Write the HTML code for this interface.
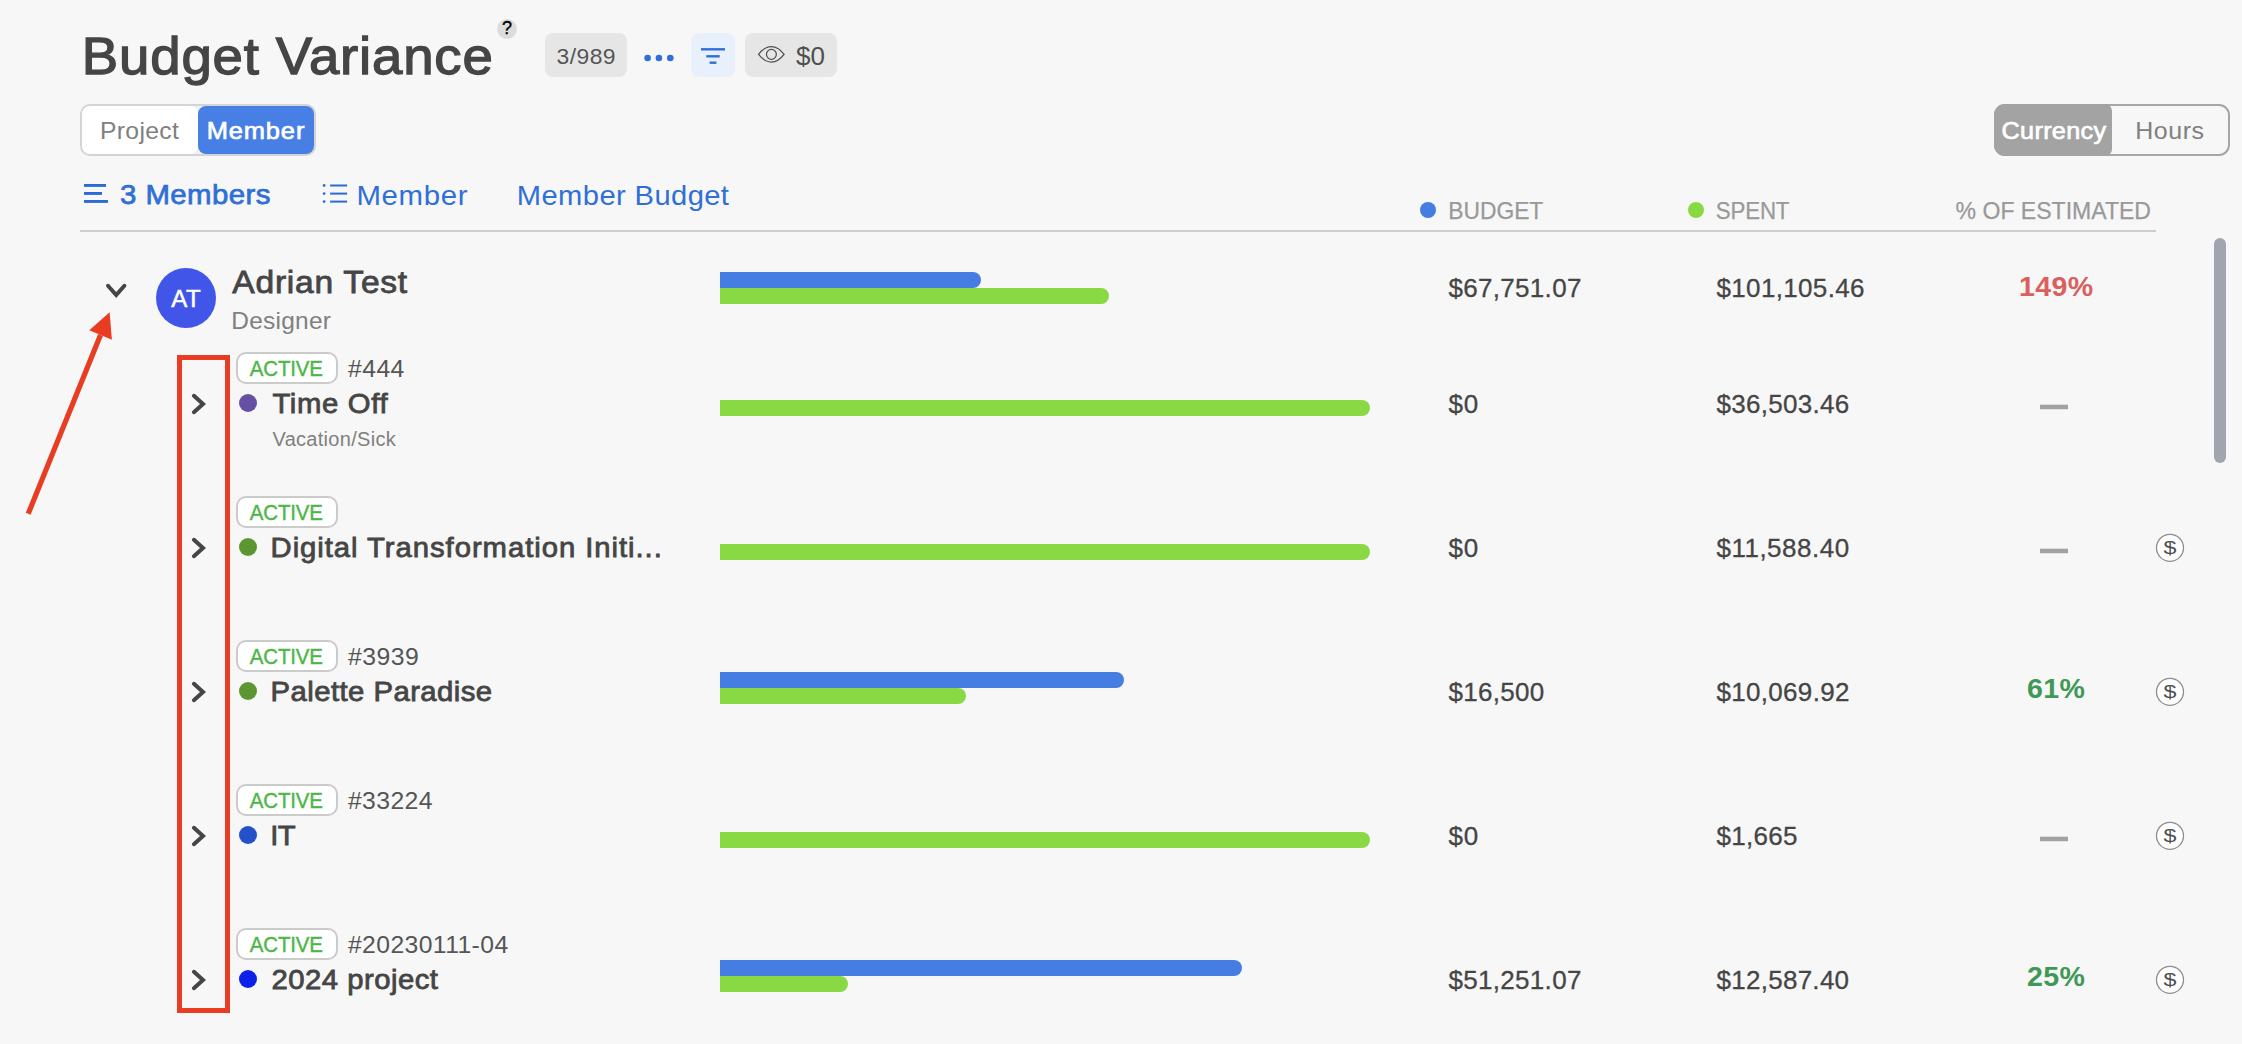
<!DOCTYPE html>
<html lang="en">
<head>
<meta charset="utf-8">
<title>Budget Variance</title>
<style>
html,body{margin:0;padding:0;}
body{width:2242px;height:1044px;background:#f7f7f7;overflow:hidden;position:relative;font-family:"Liberation Sans", sans-serif;}
.b{position:absolute;display:block;}
.t{position:absolute;white-space:pre;display:block;transform-origin:0 0;}
</style>
</head>
<body>
<div class="b" style="left:497px;top:19px;width:20px;height:20px;background:#dcdcdc;border-radius:50%;"></div>
<div class="b" style="left:545px;top:33px;width:82px;height:44px;background:#e6e6e6;border-radius:8px;"></div>
<svg class="b" style="left:640px;top:50px" width="40" height="16" viewBox="640 50 40 16"><circle cx="647.6" cy="58" r="3.3" fill="#2f6fdc"/><circle cx="658.9" cy="58" r="3.3" fill="#2f6fdc"/><circle cx="670.3" cy="58" r="3.3" fill="#2f6fdc"/></svg>
<div class="b" style="left:691px;top:33px;width:44px;height:44px;background:#e8f0fb;border-radius:8px;"></div>
<svg class="b" style="left:696px;top:44px" width="34" height="24" viewBox="696 44 34 24"><rect x="701" y="48.1" width="24" height="2.4" fill="#2f6fdc"/><rect x="706.3" y="55.1" width="13.4" height="2.4" fill="#2f6fdc"/><rect x="709.6" y="61.5" width="6.8" height="2.4" fill="#2f6fdc"/></svg>
<div class="b" style="left:745px;top:33px;width:92px;height:44px;background:#e6e6e6;border-radius:8px;"></div>
<svg class="b" style="left:754px;top:40px" width="36" height="30" viewBox="754 40 36 30"><path d="M758.6 54.3 C763 48.6 767.2 46.6 771.35 46.6 C775.5 46.6 779.7 48.6 784.1 54.3 C779.7 60 775.5 62 771.35 62 C767.2 62 763 60 758.6 54.3 Z" fill="none" stroke="#4f4f4f" stroke-width="1.25" stroke-linejoin="miter"/><circle cx="771.4" cy="54.35" r="4.95" fill="none" stroke="#4f4f4f" stroke-width="1.25"/></svg>
<div class="b" style="left:80px;top:104px;width:236px;height:52px;background:#f1f1f1;border:2px solid #d4d4d4;border-radius:10px;box-sizing:border-box;"></div>
<div class="b" style="left:82px;top:106px;width:116px;height:48px;background:#fff;border-radius:8px;"></div>
<div class="b" style="left:198px;top:106px;width:116px;height:48px;background:#487fe4;border-radius:8px;"></div>
<div class="b" style="left:1994px;top:104px;width:236px;height:52px;background:transparent;border:2px solid #a6a6a6;border-radius:11px;box-sizing:border-box;"></div>
<div class="b" style="left:1994px;top:104px;width:118px;height:52px;background:#a3a3a3;border-radius:11px 7px 7px 11px;"></div>
<svg class="b" style="left:80px;top:180px" width="32" height="28" viewBox="80 180 32 28"><rect x="84" y="184" width="22" height="2.9" fill="#2b6cd4"/><rect x="84" y="192" width="18" height="2.9" fill="#2b6cd4"/><rect x="84" y="200" width="24" height="2.9" fill="#2b6cd4"/></svg>
<svg class="b" style="left:320px;top:180px" width="32" height="28" viewBox="320 180 32 28"><circle cx="324.15" cy="185.5" r="1.4" fill="#2b6cd4"/><rect x="330.1" y="184.5" width="17" height="2" fill="#2b6cd4"/><circle cx="324.15" cy="193.6" r="1.4" fill="#2b6cd4"/><rect x="330.1" y="192.6" width="17" height="2" fill="#2b6cd4"/><circle cx="324.15" cy="201.6" r="1.4" fill="#2b6cd4"/><rect x="330.1" y="200.6" width="17" height="2" fill="#2b6cd4"/></svg>
<div class="b" style="left:80px;top:230px;width:2076px;height:2px;background:#cdcdcd;"></div>
<div class="b" style="left:1420px;top:202px;width:16px;height:16px;background:#467de3;border-radius:50%;"></div>
<div class="b" style="left:1688px;top:202px;width:16px;height:16px;background:#89d945;border-radius:50%;"></div>
<div class="b" style="left:2214px;top:238px;width:12px;height:225px;background:#a1a5b0;border-radius:6px;"></div>
<svg class="b" style="left:100px;top:278px" width="32" height="28" viewBox="100 278 32 28"><path d="M108 285.8 L116.2 295.1 L124.4 285.8" fill="none" stroke="#454545" stroke-width="4" stroke-linecap="round" stroke-linejoin="miter"/></svg>
<div class="b" style="left:156px;top:268px;width:60px;height:60px;background:#4156e8;border-radius:50%;"></div>
<div class="b" style="left:720px;top:272px;width:261px;height:16px;background:#467de3;border-radius:0 8px 8px 0;"></div>
<div class="b" style="left:720px;top:288px;width:389px;height:16px;background:#89d945;border-radius:0 8px 8px 0;"></div>
<svg class="b" style="left:186px;top:390px" width="28" height="28" viewBox="186 390 28 28"><path d="M193.9 395.8 L203 404 L193.9 412.2" fill="none" stroke="#454545" stroke-width="4" stroke-linecap="round" stroke-linejoin="miter"/></svg>
<div class="b" style="left:236px;top:352px;width:102px;height:32px;background:#fff;border:2px solid #cbcbcb;border-radius:10px;box-sizing:border-box;"></div>
<div class="b" style="left:239px;top:394px;width:18px;height:18px;background:#6650a4;border-radius:50%;"></div>
<div class="b" style="left:720px;top:400px;width:650px;height:16px;background:#89d945;border-radius:0 8px 8px 0;"></div>
<svg class="b" style="left:2036px;top:402px" width="36" height="12" viewBox="2036 402 36 12"><rect x="2040" y="404.7" width="28" height="4.5" fill="#a2a2a2"/></svg>
<svg class="b" style="left:186px;top:534px" width="28" height="28" viewBox="186 534 28 28"><path d="M193.9 539.8 L203 548 L193.9 556.2" fill="none" stroke="#454545" stroke-width="4" stroke-linecap="round" stroke-linejoin="miter"/></svg>
<div class="b" style="left:236px;top:496px;width:102px;height:32px;background:#fff;border:2px solid #cbcbcb;border-radius:10px;box-sizing:border-box;"></div>
<div class="b" style="left:239px;top:538px;width:18px;height:18px;background:#5a9632;border-radius:50%;"></div>
<div class="b" style="left:720px;top:544px;width:650px;height:16px;background:#89d945;border-radius:0 8px 8px 0;"></div>
<svg class="b" style="left:2036px;top:546px" width="36" height="12" viewBox="2036 546 36 12"><rect x="2040" y="548.7" width="28" height="4.5" fill="#a2a2a2"/></svg>
<svg class="b" style="left:2154px;top:532px" width="32" height="32" viewBox="2154 532 32 32"><circle cx="2170" cy="547.85" r="13.5" fill="#fff" stroke="#8c8c8c" stroke-width="1.25"/></svg>
<svg class="b" style="left:186px;top:678px" width="28" height="28" viewBox="186 678 28 28"><path d="M193.9 683.8 L203 692 L193.9 700.2" fill="none" stroke="#454545" stroke-width="4" stroke-linecap="round" stroke-linejoin="miter"/></svg>
<div class="b" style="left:236px;top:640px;width:102px;height:32px;background:#fff;border:2px solid #cbcbcb;border-radius:10px;box-sizing:border-box;"></div>
<div class="b" style="left:239px;top:682px;width:18px;height:18px;background:#5a9632;border-radius:50%;"></div>
<div class="b" style="left:720px;top:672px;width:404px;height:16px;background:#467de3;border-radius:0 8px 8px 0;"></div>
<div class="b" style="left:720px;top:688px;width:246px;height:16px;background:#89d945;border-radius:0 8px 8px 0;"></div>
<svg class="b" style="left:2154px;top:676px" width="32" height="32" viewBox="2154 676 32 32"><circle cx="2170" cy="691.85" r="13.5" fill="#fff" stroke="#8c8c8c" stroke-width="1.25"/></svg>
<svg class="b" style="left:186px;top:822px" width="28" height="28" viewBox="186 822 28 28"><path d="M193.9 827.8 L203 836 L193.9 844.2" fill="none" stroke="#454545" stroke-width="4" stroke-linecap="round" stroke-linejoin="miter"/></svg>
<div class="b" style="left:236px;top:784px;width:102px;height:32px;background:#fff;border:2px solid #cbcbcb;border-radius:10px;box-sizing:border-box;"></div>
<div class="b" style="left:239px;top:826px;width:18px;height:18px;background:#2450c8;border-radius:50%;"></div>
<div class="b" style="left:720px;top:832px;width:650px;height:16px;background:#89d945;border-radius:0 8px 8px 0;"></div>
<svg class="b" style="left:2036px;top:834px" width="36" height="12" viewBox="2036 834 36 12"><rect x="2040" y="836.7" width="28" height="4.5" fill="#a2a2a2"/></svg>
<svg class="b" style="left:2154px;top:820px" width="32" height="32" viewBox="2154 820 32 32"><circle cx="2170" cy="835.85" r="13.5" fill="#fff" stroke="#8c8c8c" stroke-width="1.25"/></svg>
<svg class="b" style="left:186px;top:966px" width="28" height="28" viewBox="186 966 28 28"><path d="M193.9 971.8 L203 980 L193.9 988.2" fill="none" stroke="#454545" stroke-width="4" stroke-linecap="round" stroke-linejoin="miter"/></svg>
<div class="b" style="left:236px;top:928px;width:102px;height:32px;background:#fff;border:2px solid #cbcbcb;border-radius:10px;box-sizing:border-box;"></div>
<div class="b" style="left:239px;top:970px;width:18px;height:18px;background:#0b20e8;border-radius:50%;"></div>
<div class="b" style="left:720px;top:960px;width:522px;height:16px;background:#467de3;border-radius:0 8px 8px 0;"></div>
<div class="b" style="left:720px;top:976px;width:128px;height:16px;background:#89d945;border-radius:0 8px 8px 0;"></div>
<svg class="b" style="left:2154px;top:964px" width="32" height="32" viewBox="2154 964 32 32"><circle cx="2170" cy="979.85" r="13.5" fill="#fff" stroke="#8c8c8c" stroke-width="1.25"/></svg>
<div class="b" style="left:177px;top:355px;width:53px;height:658px;background:transparent;border:5px solid #e83d23;box-sizing:border-box;"></div>
<svg class="b" style="left:0px;top:300px" width="160" height="230" viewBox="0 300 160 230"><line x1="28.2" y1="513.8" x2="100.5" y2="335" stroke="#e83d23" stroke-width="5.2"/><polygon points="109.6,312.2 89.3,330.2 111.9,339.7" fill="#e83d23"/></svg>
<span class="t" id="title" style="left:81px;top:30.00px;font-size:52px;line-height:52px;color:#454545;letter-spacing:0.770px;-webkit-text-stroke:1.3px #454545;transform:translateX(0.85px) scaleX(1.0500);">Budget Variance</span>
<span class="t" id="help" style="left:501px;top:20.35px;font-size:17.8px;line-height:17.8px;color:#000;-webkit-text-stroke:0.35px #000;transform:translateX(0.91px) scaleX(1.0130);">?</span>
<span class="t" id="count" style="left:556px;top:46.00px;font-size:22px;line-height:22px;color:#555;letter-spacing:0.422px;transform:translateX(0.57px) scaleX(1.0400);">3/989</span>
<span class="t" id="eyeamt" style="left:795.93px;top:43.00px;font-size:26px;line-height:26px;color:#4f4f4f;letter-spacing:0.110px;">$0</span>
<span class="t" id="project" style="left:100px;top:119.00px;font-size:24px;line-height:24px;color:#808080;letter-spacing:0.308px;transform:translateX(0.02px) scaleX(1.0300);">Project</span>
<span class="t" id="memberbtn" style="left:206px;top:119.00px;font-size:24px;line-height:24px;color:#fff;letter-spacing:0.830px;-webkit-text-stroke:0.7px #fff;transform:translateX(0.67px) scaleX(1.0600);">Member</span>
<span class="t" id="currency" style="left:2001px;top:119.00px;font-size:24px;line-height:24px;color:#fff;letter-spacing:0.300px;-webkit-text-stroke:0.7px #fff;transform:translateX(0.60px) scaleX(1.0500);">Currency</span>
<span class="t" id="hours" style="left:2135px;top:119.00px;font-size:24px;line-height:24px;color:#808080;letter-spacing:0.503px;transform:translateX(0.28px) scaleX(1.0400);">Hours</span>
<span class="t" id="tab1" style="left:120px;top:181.00px;font-size:28px;line-height:28px;color:#2f6fd6;letter-spacing:0.405px;-webkit-text-stroke:0.75px #2f6fd6;transform:translateX(0.06px) scaleX(1.0500);">3 Members</span>
<span class="t" id="tab2" style="left:356px;top:182.00px;font-size:28px;line-height:28px;color:#2f6fd6;letter-spacing:0.628px;transform:translateX(0.45px) scaleX(1.0500);">Member</span>
<span class="t" id="tab3" style="left:516px;top:182.00px;font-size:28px;line-height:28px;color:#2f6fd6;letter-spacing:0.393px;transform:translateX(0.84px) scaleX(1.0400);">Member Budget</span>
<span class="t" id="hbudget" style="left:1448px;top:199.00px;font-size:24px;line-height:24px;color:#999;letter-spacing:0.015px;-webkit-text-stroke:0.25px #999;transform:translateX(0.20px) scaleX(0.9500);">BUDGET</span>
<span class="t" id="hspent" style="left:1715px;top:199.00px;font-size:24px;line-height:24px;color:#999;letter-spacing:-0.209px;-webkit-text-stroke:0.25px #999;transform:translateX(0.86px) scaleX(0.9300);">SPENT</span>
<span class="t" id="hpct" style="left:1955px;top:199.00px;font-size:24px;line-height:24px;color:#999;letter-spacing:-0.006px;-webkit-text-stroke:0.25px #999;transform:translateX(0.62px) scaleX(0.9600);">% OF ESTIMATED</span>
<span class="t" id="avatar" style="left:171.15px;top:287.00px;font-size:24px;line-height:24px;color:#fff;letter-spacing:0.691px;-webkit-text-stroke:0.5px #fff;">AT</span>
<span class="t" id="name" style="left:232px;top:266.00px;font-size:32px;line-height:32px;color:#454545;letter-spacing:0.703px;-webkit-text-stroke:0.8px #454545;transform:translateX(0.33px) scaleX(1.0500);">Adrian Test</span>
<span class="t" id="role" style="left:231px;top:309.00px;font-size:24px;line-height:24px;color:#808080;letter-spacing:0.231px;transform:translateX(0.36px) scaleX(1.0200);">Designer</span>
<span class="t" id="mbud" style="left:1448.44px;top:275.00px;font-size:26px;line-height:26px;color:#454545;letter-spacing:0.312px;-webkit-text-stroke:0.3px #454545;">$67,751.07</span>
<span class="t" id="mspent" style="left:1716.54px;top:275.00px;font-size:26px;line-height:26px;color:#454545;letter-spacing:0.332px;-webkit-text-stroke:0.3px #454545;">$101,105.46</span>
<span class="t" id="mpct" style="left:2019px;top:273.00px;font-size:28px;line-height:28px;color:#d9605f;font-weight:700;letter-spacing:0.330px;transform:translateX(0.00px) scaleX(1.0200);">149%</span>
<span class="t" id="act0" style="left:249px;top:358.00px;font-size:22px;line-height:22px;color:#4cb648;letter-spacing:-0.182px;-webkit-text-stroke:0.4px #4cb648;transform:translateX(0.86px) scaleX(0.9300);">ACTIVE</span>
<span class="t" id="num0" style="left:347px;top:357.00px;font-size:24px;line-height:24px;color:#555;letter-spacing:0.458px;transform:translateX(0.96px) scaleX(1.0300);">#444</span>
<span class="t" id="pname0" style="left:272px;top:390.00px;font-size:28px;line-height:28px;color:#454545;letter-spacing:0.631px;-webkit-text-stroke:0.8px #454545;transform:translateX(0.40px) scaleX(1.0450);">Time Off</span>
<span class="t" id="sub0" style="left:272.49px;top:429.00px;font-size:20px;line-height:20px;color:#808080;letter-spacing:0.292px;">Vacation/Sick</span>
<span class="t" id="bud0" style="left:1448.44px;top:391.00px;font-size:26px;line-height:26px;color:#454545;letter-spacing:0.855px;-webkit-text-stroke:0.3px #454545;">$0</span>
<span class="t" id="spent0" style="left:1716.44px;top:391.00px;font-size:26px;line-height:26px;color:#454545;letter-spacing:0.294px;-webkit-text-stroke:0.3px #454545;">$36,503.46</span>
<span class="t" id="act1" style="left:249px;top:502.00px;font-size:22px;line-height:22px;color:#4cb648;letter-spacing:-0.182px;-webkit-text-stroke:0.4px #4cb648;transform:translateX(0.86px) scaleX(0.9300);">ACTIVE</span>
<span class="t" id="pname1" style="left:270px;top:534.00px;font-size:28px;line-height:28px;color:#454545;letter-spacing:0.913px;-webkit-text-stroke:0.8px #454545;transform:translateX(0.55px) scaleX(1.0450);">Digital Transformation Initi...</span>
<span class="t" id="bud1" style="left:1448.44px;top:535.00px;font-size:26px;line-height:26px;color:#454545;letter-spacing:0.855px;-webkit-text-stroke:0.3px #454545;">$0</span>
<span class="t" id="spent1" style="left:1716.44px;top:535.00px;font-size:26px;line-height:26px;color:#454545;letter-spacing:0.503px;-webkit-text-stroke:0.3px #454545;">$11,588.40</span>
<span class="t" id="dol1" style="left:2163px;top:539.00px;font-size:19.5px;line-height:19.5px;color:#505050;transform:translateX(0.58px) scale(1.1957,0.952);">$</span>
<span class="t" id="act2" style="left:249px;top:646.00px;font-size:22px;line-height:22px;color:#4cb648;letter-spacing:-0.182px;-webkit-text-stroke:0.4px #4cb648;transform:translateX(0.86px) scaleX(0.9300);">ACTIVE</span>
<span class="t" id="num2" style="left:347px;top:645.00px;font-size:24px;line-height:24px;color:#555;letter-spacing:0.510px;transform:translateX(0.96px) scaleX(1.0300);">#3939</span>
<span class="t" id="pname2" style="left:270px;top:678.00px;font-size:28px;line-height:28px;color:#454545;letter-spacing:0.438px;-webkit-text-stroke:0.8px #454545;transform:translateX(0.55px) scaleX(1.0450);">Palette Paradise</span>
<span class="t" id="bud2" style="left:1448.44px;top:679.00px;font-size:26px;line-height:26px;color:#454545;letter-spacing:0.311px;-webkit-text-stroke:0.3px #454545;">$16,500</span>
<span class="t" id="spent2" style="left:1716.44px;top:679.00px;font-size:26px;line-height:26px;color:#454545;letter-spacing:0.317px;-webkit-text-stroke:0.3px #454545;">$10,069.92</span>
<span class="t" id="pct2" style="left:2026px;top:675.00px;font-size:28px;line-height:28px;color:#3f9956;font-weight:700;letter-spacing:0.320px;transform:translateX(0.99px) scaleX(1.0200);">61%</span>
<span class="t" id="dol2" style="left:2163px;top:683.00px;font-size:19.5px;line-height:19.5px;color:#505050;transform:translateX(0.58px) scale(1.1957,0.952);">$</span>
<span class="t" id="act3" style="left:249px;top:790.00px;font-size:22px;line-height:22px;color:#4cb648;letter-spacing:-0.182px;-webkit-text-stroke:0.4px #4cb648;transform:translateX(0.86px) scaleX(0.9300);">ACTIVE</span>
<span class="t" id="num3" style="left:347px;top:789.00px;font-size:24px;line-height:24px;color:#555;letter-spacing:0.380px;transform:translateX(0.96px) scaleX(1.0300);">#33224</span>
<span class="t" id="pname3" style="left:270px;top:822.00px;font-size:28px;line-height:28px;color:#454545;letter-spacing:-0.587px;-webkit-text-stroke:0.8px #454545;transform:translateX(0.30px) scaleX(1.0450);">IT</span>
<span class="t" id="bud3" style="left:1448.44px;top:823.00px;font-size:26px;line-height:26px;color:#454545;letter-spacing:0.855px;-webkit-text-stroke:0.3px #454545;">$0</span>
<span class="t" id="spent3" style="left:1716.44px;top:823.00px;font-size:26px;line-height:26px;color:#454545;letter-spacing:0.287px;-webkit-text-stroke:0.3px #454545;">$1,665</span>
<span class="t" id="dol3" style="left:2163px;top:827.00px;font-size:19.5px;line-height:19.5px;color:#505050;transform:translateX(0.58px) scale(1.1957,0.952);">$</span>
<span class="t" id="act4" style="left:249px;top:934.00px;font-size:22px;line-height:22px;color:#4cb648;letter-spacing:-0.182px;-webkit-text-stroke:0.4px #4cb648;transform:translateX(0.86px) scaleX(0.9300);">ACTIVE</span>
<span class="t" id="num4" style="left:347px;top:933.00px;font-size:24px;line-height:24px;color:#555;letter-spacing:0.386px;transform:translateX(0.96px) scaleX(1.0300);">#20230111-04</span>
<span class="t" id="pname4" style="left:271px;top:966.00px;font-size:28px;line-height:28px;color:#454545;letter-spacing:0.455px;-webkit-text-stroke:0.8px #454545;transform:translateX(0.61px) scaleX(1.0450);">2024 project</span>
<span class="t" id="bud4" style="left:1448.44px;top:967.00px;font-size:26px;line-height:26px;color:#454545;letter-spacing:0.312px;-webkit-text-stroke:0.3px #454545;">$51,251.07</span>
<span class="t" id="spent4" style="left:1716.44px;top:967.00px;font-size:26px;line-height:26px;color:#454545;letter-spacing:0.279px;-webkit-text-stroke:0.3px #454545;">$12,587.40</span>
<span class="t" id="pct4" style="left:2027px;top:963.00px;font-size:28px;line-height:28px;color:#3f9956;font-weight:700;letter-spacing:0.301px;transform:translateX(0.00px) scaleX(1.0200);">25%</span>
<span class="t" id="dol4" style="left:2163px;top:971.00px;font-size:19.5px;line-height:19.5px;color:#505050;transform:translateX(0.58px) scale(1.1957,0.952);">$</span>
</body>
</html>
